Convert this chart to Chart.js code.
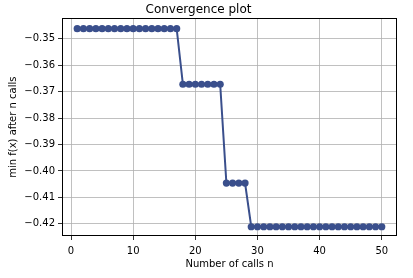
<!DOCTYPE html>
<html>
<head>
<meta charset="utf-8">
<script src="https://cdn.jsdelivr.net/npm/chart.js@4"></script>
<style>
  html, body { margin: 0; padding: 0; background: #fff; }
  #wrap { width: 413px; height: 278px; }
</style>
</head>
<body>
<div id="wrap"><canvas id="convergence" width="413" height="278"></canvas></div>
<script>
// number of calls n
const calls = [1, 2, 3, 4, 5, 6, 7, 8, 9, 10, 11, 12, 13, 14, 15, 16, 17, 18, 19, 20,
  21, 22, 23, 24, 25, 26, 27, 28, 29, 30, 31, 32, 33, 34, 35, 36, 37, 38, 39, 40,
  41, 42, 43, 44, 45, 46, 47, 48, 49, 50];
// best value found after n calls
const minValues = [
  -0.3462, -0.3462, -0.3462, -0.3462, -0.3462, -0.3462, -0.3462, -0.3462, -0.3462, -0.3462,
  -0.3462, -0.3462, -0.3462, -0.3462, -0.3462, -0.3462, -0.3462, -0.3672, -0.3672, -0.3672,
  -0.3672, -0.3672, -0.3672, -0.3672, -0.4046, -0.4046, -0.4046, -0.4046, -0.4211, -0.4211,
  -0.4211, -0.4211, -0.4211, -0.4211, -0.4211, -0.4211, -0.4211, -0.4211, -0.4211, -0.4211,
  -0.4211, -0.4211, -0.4211, -0.4211, -0.4211, -0.4211, -0.4211, -0.4211, -0.4211, -0.4211];
const xTicks = [0, 10, 20, 30, 40, 50];
const yTicks = [-0.35, -0.36, -0.37, -0.38, -0.39, -0.40, -0.41, -0.42];

const font = "'DejaVu Sans', sans-serif";

// draws the black box round the plot area (matplotlib style)
const frame = {
  id: 'frame',
  afterDatasetsDraw(chart) {
    const a = chart.chartArea, ctx = chart.ctx;
    ctx.save();
    ctx.strokeStyle = '#000';
    ctx.lineWidth = 1;
    ctx.strokeRect(Math.round(a.left) + 0.5, Math.round(a.top) + 0.5,
      Math.round(a.right - a.left) - 1, Math.round(a.bottom - a.top) - 1);
    ctx.restore();
  }
};

let chartContainer = document.getElementById('convergence');
let chart = new Chart(chartContainer, {
  type: 'line',
  data: {
    datasets: [{
      data: calls.map((n, i) => ({ x: n, y: minValues[i] })),
      borderColor: '#3a4f8c',
      backgroundColor: '#3a4f8c',
      pointBackgroundColor: '#3a4f8c',
      pointBorderColor: '#3a4f8c',
      borderWidth: 2,
      pointRadius: 3.6,
      pointBorderWidth: 0,
      tension: 0,
      fill: false
    }]
  },
  options: {
    responsive: false,
    animation: false,
    layout: { padding: { left: 0, right: 16, top: 0, bottom: 0 } },
    plugins: {
      legend: { display: false },
      tooltip: { enabled: false },
      title: {
        display: true,
        text: 'Convergence plot',
        color: '#000',
        font: { family: font, size: 12, weight: 'normal' },
        padding: { top: 3, bottom: 1 }
      }
    },
    scales: {
      x: {
        type: 'linear',
        min: -1.45,
        max: 52.45,
        afterFit: s => { s.height = 42; },
        afterBuildTicks: s => { s.ticks = xTicks.map(v => ({ value: v })); },
        ticks: { color: '#000', font: { family: font, size: 10 }, padding: 5, maxRotation: 0 },
        grid: { color: '#b0b0b0', lineWidth: 0.8, tickColor: '#000', tickLength: 4 },
        border: { display: false },
        title: {
          display: true,
          text: 'Number of calls n',
          color: '#000',
          font: { family: font, size: 10 },
          padding: { top: 2, bottom: 8 }
        }
      },
      y: {
        min: -0.4246,
        max: -0.3423,
        afterFit: s => { s.width = 62; },
        afterBuildTicks: s => { s.ticks = yTicks.map(v => ({ value: v })); },
        ticks: {
          color: '#000',
          font: { family: font, size: 10 },
          padding: 3,
          callback: v => v.toFixed(2).replace('-', '\u2212')
        },
        grid: { color: '#b0b0b0', lineWidth: 0.8, tickColor: '#000', tickLength: 4 },
        border: { display: false },
        title: {
          display: true,
          text: 'min f(x) after n calls',
          color: '#000',
          font: { family: font, size: 10 },
          padding: { top: 7, bottom: 2 }
        }
      }
    }
  },
  plugins: [frame]
});
</script>
</body>
</html>
